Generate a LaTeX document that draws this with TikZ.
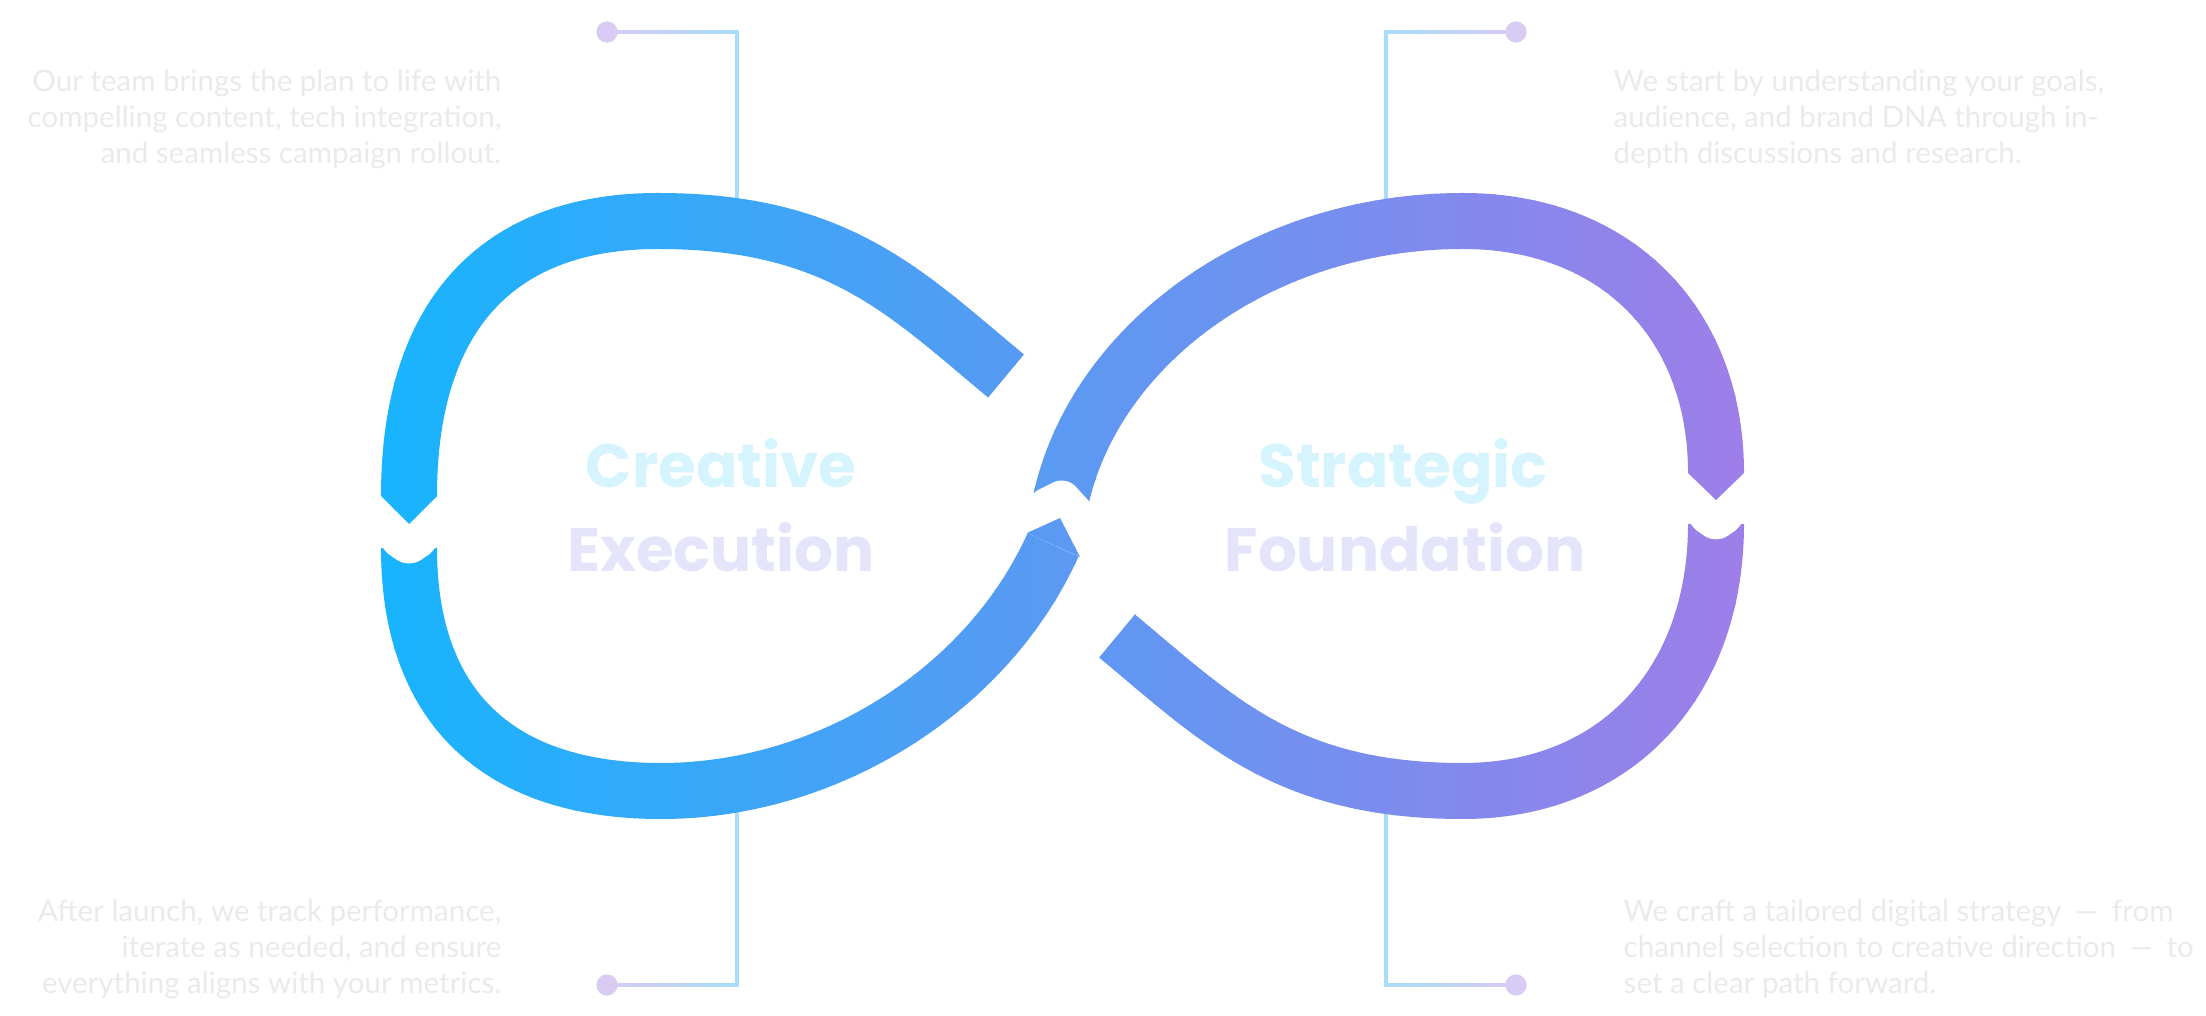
\documentclass[tikz,border=0pt]{standalone}
\usepackage{fontspec}
\setmainfont{Lato}
\newfontfamily\titlefont{Poppins}
\usetikzlibrary{calc}
\definecolor{loopcyan}{RGB}{24,180,253}
\definecolor{looppurple}{RGB}{158,126,232}
\definecolor{headcyan}{HTML}{D6F4FE}
\definecolor{headlav}{HTML}{E4E4FB}
\definecolor{notegray}{HTML}{EAEAEC}
\definecolor{leadblue}{HTML}{A6DDF8}
\definecolor{leadlav}{HTML}{D8CBF4}
\newcommand\infinitybands{%
  \draw (1006,376) .. controls (906,293) and (838,221) .. (658,221) .. controls (496,221) and (409,317) .. (409,496);
  \draw (409,548) .. controls (409,706) and (497,791) .. (661,791) .. controls (827,791) and (987,691) .. (1053,545);
  \draw (1061,499) .. controls (1096,343) and (1263,221) .. (1463,221) .. controls (1615,221) and (1716,322) .. (1716,473);
  \draw (1716,524) .. controls (1716,684) and (1615,791) .. (1463,791) .. controls (1285,791) and (1217,719) .. (1117,636);
  \fill (381,496) -- (437,496) -- (409,524) -- cycle;
  \fill (1688,473) -- (1744,473) -- (1716,500) -- cycle;
  \fill (1027,533) -- (1080,557) -- (1060,518) -- cycle;}
\newcommand\wdash{\hspace{0.2em} — \hspace{0.2em}}

\begin{document}
\begin{tikzpicture}[x=0.1mm,y=-0.1mm,note/.style={text=notegray,inner sep=0,font=\fontsize{8.4}{10.24}\selectfont},headtxt/.style={anchor=base,inner sep=0,font=\titlefont\bfseries\fontsize{17.4}{22}\selectfont},lead/.style={draw=leadblue,line width=0.32mm},leaddot/.style={circle,fill=leadlav,inner sep=0,minimum size=2.1mm},notch/.style={fill=white,rounded corners=4}]
\useasboundingbox (0,0) rectangle (2206,1016);
% callouts
\node[leaddot] (dotTL) at (607,32) {};\coordinate (cornerTL) at (737,32);\coordinate (footTL) at (737,215);
\node[leaddot] (dotBL) at (607,985) {};\coordinate (cornerBL) at (737,985);\coordinate (footBL) at (737,790);
\node[leaddot] (dotTR) at (1516,32) {};\coordinate (cornerTR) at (1386,32);\coordinate (footTR) at (1386,215);
\node[leaddot] (dotBR) at (1516,985) {};\coordinate (cornerBR) at (1386,985);\coordinate (footBR) at (1386,790);
\shade[left color=leadlav,right color=leadblue] ($(dotTL)+(0,-1.6)$) rectangle ($(cornerTL)+(1.6,1.6)$);
\shade[left color=leadlav,right color=leadblue] ($(dotBL)+(0,-1.6)$) rectangle ($(cornerBL)+(1.6,1.6)$);
\shade[left color=leadblue,right color=leadlav] ($(cornerTR)+(-1.6,-1.6)$) rectangle ($(dotTR)+(0,1.6)$);
\shade[left color=leadblue,right color=leadlav] ($(cornerBR)+(-1.6,-1.6)$) rectangle ($(dotBR)+(0,1.6)$);
\draw[lead] (cornerTL)--(footTL);\draw[lead] (cornerBL)--(footBL);\draw[lead] (cornerTR)--(footTR);\draw[lead] (cornerBR)--(footBR);
\node[leaddot] at (dotTL) {};\node[leaddot] at (dotBL) {};\node[leaddot] at (dotTR) {};\node[leaddot] at (dotBR) {};
% infinity loop, horizontal gradient in strips
\foreach \k in {0,...,69}{
  \pgfmathsetmacro\xa{375+\k*20}
  \pgfmathsetmacro\mix{min(100,max(0,(\xa+10-380)/13.65))}
  \colorlet{stripcol}{looppurple!\mix!loopcyan}
  \begin{scope}
    \clip (\xa-0.6,0) rectangle (\xa+20.6,1016);
    \begin{scope}[color=stripcol,line width=5.6mm]\infinitybands\end{scope}
  \end{scope}}
\fill[notch] (378,540) -- (440,540) -- (440,547) -- (409,568) -- (378,547) -- cycle;
\fill[notch] (1686,517) -- (1746,517) -- (1746,523) -- (1716,544) -- (1686,523) -- cycle;
\fill[notch] (1026,496) -- (1066,476) -- (1097,510) -- cycle;
% titles
\node[headtxt,text=headcyan] (creative) at (721,488) {Creative};
\node[headtxt,text=headlav] (execution) at (721,572) {Execution};
\node[headtxt,text=headcyan] (strategic) at (1403,488) {Strategic};
\node[headtxt,text=headlav] (foundation) at (1405,572) {Foundation};
% notes
\node[note,anchor=north east,align=right] (noteTL) at (502,69) {Our team brings the plan to life with\\compelling content, tech integration,\\and seamless campaign rollout.};
\node[note,anchor=north east,align=right] (noteBL) at (502,899) {After launch, we track performance,\\iterate as needed, and ensure\\everything aligns with your metrics.};
\node[note,anchor=north west,align=left] (noteTR) at (1613,69) {We start by understanding your goals,\\audience, and brand DNA through in-\\depth discussions and research.};
\node[note,anchor=north west,align=left] (noteBR) at (1623,899) {We craft a tailored digital strategy\wdash from\\channel selection to creative direction\wdash to\\set a clear path forward.};
\end{tikzpicture}
\end{document}
